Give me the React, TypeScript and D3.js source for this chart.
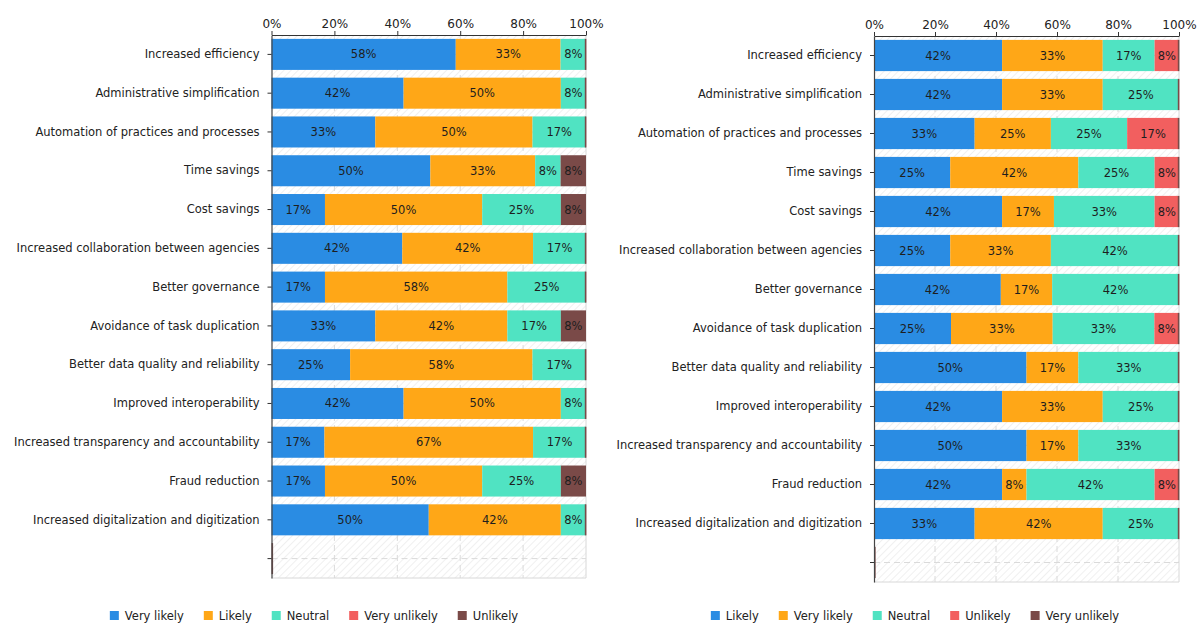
import React, { useEffect, useRef } from 'react';
import * as d3 from 'd3';

const categories = [
  'Increased efficiency',
  'Administrative simplification',
  'Automation of practices and processes',
  'Time savings',
  'Cost savings',
  'Increased collaboration between agencies',
  'Better governance',
  'Avoidance of task duplication',
  'Better data quality and reliability',
  'Improved interoperability ',
  'Increased transparency and accountability',
  'Fraud reduction ',
  'Increased digitalization and digitization',
  ' ',
];

const leftSeriesNames = ['Very likely', 'Likely', 'Neutral', 'Very unlikely', 'Unlikely'];
const leftVeryLikely = [58, 42, 33, 50, 17, 42, 17, 33, 25, 42, 17, 17, 50, 0];
const leftLikely = [33, 50, 50, 33, 50, 42, 58, 42, 58, 50, 67, 50, 42, 0];
const leftNeutral = [8, 8, 17, 8, 25, 17, 25, 17, 17, 8, 17, 25, 8, 0];
const leftVeryUnlikely = [0, 0, 0, 0, 0, 0, 0, 0, 0, 0, 0, 0, 0, 0];
const leftUnlikely = [0, 0, 0, 8, 8, 0, 0, 8, 0, 0, 0, 8, 0, 0];

const rightSeriesNames = ['Likely', 'Very likely', 'Neutral', 'Unlikely', 'Very unlikely'];
const rightLikely = [42, 42, 33, 25, 42, 25, 42, 25, 50, 42, 50, 42, 33, 0];
const rightVeryLikely = [33, 33, 25, 42, 17, 33, 17, 33, 17, 33, 17, 8, 42, 0];
const rightNeutral = [17, 25, 25, 25, 33, 42, 42, 33, 33, 25, 33, 42, 25, 0];
const rightUnlikely = [8, 0, 17, 8, 8, 0, 0, 8, 0, 0, 0, 8, 0, 0];
const rightVeryUnlikely = [0, 0, 0, 0, 0, 0, 0, 0, 0, 0, 0, 0, 0, 0];

const xTicks = [0, 0.2, 0.4, 0.6, 0.8, 1];
const palette = ['#2a8ce3', '#ffa717', '#50e3c2', '#f25f5f', '#7a4a48'];

const FONT = "'DejaVu Sans', Verdana, sans-serif";

type ChartCfg = {
  x0: number; x1: number; y0: number; y1: number;
  names: string[]; values: number[][]; legendCenter: number; legendY: number;
};

function drawChart(root: d3.Selection<SVGGElement, unknown, null, undefined>, cfg: ChartCfg, id: string) {
  const rows = categories.map((c, i) => {
    const r: any = { cat: c };
    cfg.names.forEach((n, k) => { r[n] = cfg.values[k][i]; });
    return r;
  });
  const stack = d3.stack<any>().keys(cfg.names).offset(d3.stackOffsetExpand);
  const series = stack(rows);

  const x = d3.scaleLinear().domain([0, 1]).range([cfg.x0, cfg.x1]);
  const y = d3.scaleBand<string>().domain(categories).range([cfg.y0, cfg.y1]).paddingInner(0.2).paddingOuter(0.1);

  const g = root.append('g');

  // hatch background
  g.append('rect').attr('x', cfg.x0).attr('y', cfg.y0).attr('width', cfg.x1 - cfg.x0).attr('height', cfg.y1 - cfg.y0)
    .attr('fill', `url(#${id})`);

  // grid
  g.selectAll('line.vg').data(xTicks.slice(1, -1)).join('line')
    .attr('x1', d => x(d)).attr('x2', d => x(d)).attr('y1', cfg.y0).attr('y2', cfg.y1)
    .attr('stroke', '#dadada').attr('stroke-dasharray', '6,4');
  g.selectAll('line.hg').data(categories).join('line')
    .attr('x1', cfg.x0).attr('x2', cfg.x1)
    .attr('y1', d => (y(d) as number) + y.bandwidth() / 2).attr('y2', d => (y(d) as number) + y.bandwidth() / 2)
    .attr('stroke', '#dadada').attr('stroke-dasharray', '6,4');
  // right/bottom border
  g.append('line').attr('x1', cfg.x1).attr('x2', cfg.x1).attr('y1', cfg.y0).attr('y2', cfg.y1).attr('stroke', '#d8d8d8');
  g.append('line').attr('x1', cfg.x0).attr('x2', cfg.x1).attr('y1', cfg.y1).attr('y2', cfg.y1).attr('stroke', '#d8d8d8');

  // bars
  series.forEach((s, k) => {
    const isLast = k === series.length - 1;
    s.forEach((d: any) => {
      const cat = d.data.cat;
      const a = x(d[0]), b = x(d[1]);
      let w = b - a;
      let xa = a;
      if (w <= 0) {
        if (!isLast) return;
        w = 1.6;
        xa = cat === ' ' ? x(0) : x(1) - 1.2;
      }
      g.append('rect').attr('x', xa).attr('y', y(cat) as number).attr('width', w).attr('height', y.bandwidth())
        .attr('fill', palette[k]);
      const v = d.data[cfg.names[k]];
      if (v > 0) {
        g.append('text').attr('x', (a + b) / 2).attr('y', (y(cat) as number) + y.bandwidth() / 2)
          .attr('text-anchor', 'middle').attr('dominant-baseline', 'central')
          .attr('font-size', 11.5).attr('fill', '#1e1e1e').attr('font-family', FONT)
          .text(`${v}%`);
      }
    });
  });

  // top axis
  const ax = g.append('g').attr('transform', `translate(0,${cfg.y0})`)
    .call(d3.axisTop(x).tickValues(xTicks).tickFormat(d3.format('.0%')).tickSize(4).tickPadding(3).tickSizeOuter(0));
  ax.select('.domain').attr('stroke', '#333');
  ax.selectAll('.tick line').attr('stroke', '#333');
  ax.selectAll('text').attr('font-family', FONT).attr('font-size', 12).attr('fill', '#222');

  // left axis
  const ay = g.append('g').attr('transform', `translate(${cfg.x0},0)`)
    .call(d3.axisLeft(y).tickSize(4).tickPadding(8).tickSizeOuter(0));
  ay.select('.domain').attr('stroke', '#444').attr('stroke-width', 1.2);
  ay.selectAll('.tick line').attr('stroke', '#333');
  ay.selectAll('text').attr('font-family', FONT).attr('font-size', 11.5).attr('fill', '#222');

  // legend
  const lg = g.append('g');
  const items = cfg.names.map((n, k) => {
    const it = lg.append('g');
    it.append('rect').attr('x', 0).attr('y', -5).attr('width', 9).attr('height', 9).attr('fill', palette[k]);
    const t = it.append('text').attr('x', 15).attr('y', 0).attr('dominant-baseline', 'central')
      .attr('font-family', FONT).attr('font-size', 11.5).attr('fill', '#222').text(n);
    const tw = (t.node() as SVGTextElement).getComputedTextLength();
    return { it, w: 15 + tw };
  });
  const gap = 20;
  const total = d3.sum(items, d => d.w) + gap * (items.length - 1);
  let cx = cfg.legendCenter - total / 2;
  items.forEach(d => { d.it.attr('transform', `translate(${cx},${cfg.legendY})`); cx += d.w + gap; });
}

export default function App() {
  const ref = useRef<SVGSVGElement>(null);
  useEffect(() => {
    const svg = d3.select(ref.current as SVGSVGElement);
    svg.selectAll('*').remove();
    const defs = svg.append('defs');
    const pat = defs.append('pattern').attr('id', 'hatch').attr('patternUnits', 'userSpaceOnUse')
      .attr('width', 5).attr('height', 5).attr('patternTransform', 'rotate(45)');
    pat.append('rect').attr('width', 5).attr('height', 5).attr('fill', '#ffffff');
    pat.append('line').attr('x1', 0).attr('y1', 0).attr('x2', 0).attr('y2', 5).attr('stroke', '#e6e6e6').attr('stroke-width', 1.2);
    const root = svg.append('g') as any;
    drawChart(root, {
      x0: 271.5, x1: 586, y0: 35, y1: 578,
      names: leftSeriesNames,
      values: [leftVeryLikely, leftLikely, leftNeutral, leftVeryUnlikely, leftUnlikely],
      legendCenter: 314, legendY: 616,
    }, 'hatch');
    drawChart(root, {
      x0: 874, x1: 1179, y0: 36, y1: 582,
      names: rightSeriesNames,
      values: [rightLikely, rightVeryLikely, rightNeutral, rightUnlikely, rightVeryUnlikely],
      legendCenter: 915, legendY: 616,
    }, 'hatch');
  }, []);
  return (
    <svg ref={ref} width={1200} height={624}
      style={{ position: 'absolute', left: 0, top: 0, background: '#fff', display: 'block' }} />
  );
}
